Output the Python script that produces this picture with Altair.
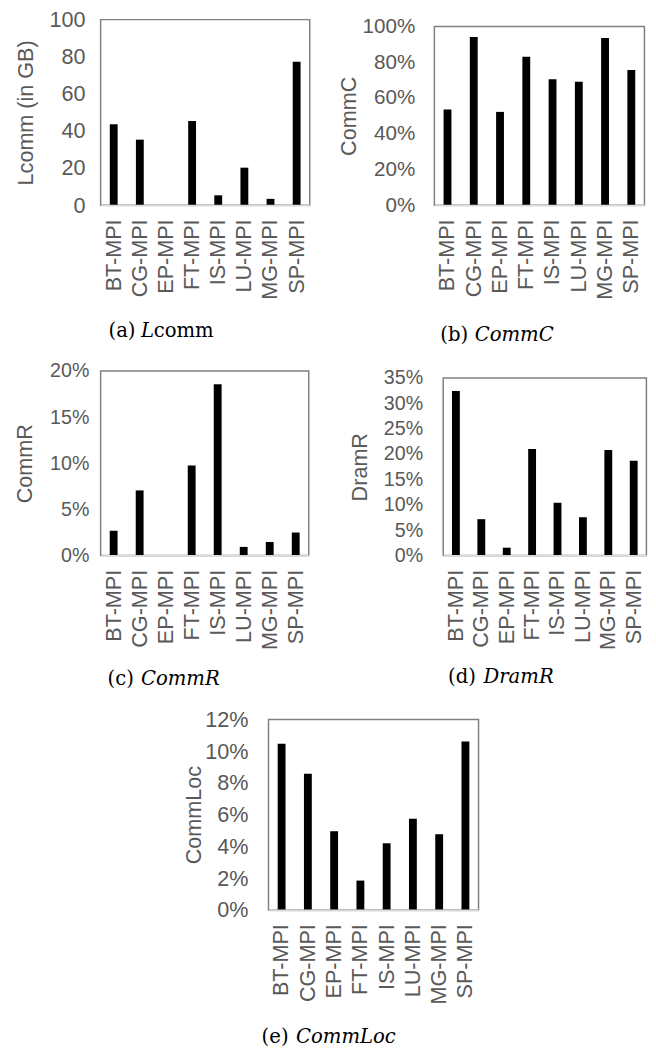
import altair as alt
import pandas as pd

categories = ["BT-MPI", "CG-MPI", "EP-MPI", "FT-MPI", "IS-MPI", "LU-MPI", "MG-MPI", "SP-MPI"]

lcomm = [43.6, 35.3, 0.0, 45.4, 5.3, 20.2, 3.4, 77.3]
commc = [0.535, 0.941, 0.522, 0.831, 0.705, 0.691, 0.936, 0.756]
commr = [0.0269, 0.0706, 0.0, 0.0975, 0.1857, 0.0094, 0.0147, 0.025]
dramr = [0.324, 0.0717, 0.0155, 0.2098, 0.104, 0.0755, 0.208, 0.1866]
commloc = [0.1047, 0.0858, 0.0496, 0.0185, 0.042, 0.0574, 0.0477, 0.1061]

ticks_lcomm = [0, 20, 40, 60, 80, 100]
ticks_commc = [0, 0.2, 0.4, 0.6, 0.8, 1.0]
ticks_commr = [0, 0.05, 0.10, 0.15, 0.20]
ticks_dramr = [0, 0.05, 0.10, 0.15, 0.20, 0.25, 0.30, 0.35]
ticks_commloc = [0, 0.02, 0.04, 0.06, 0.08, 0.10, 0.12]

GRAY = "#595959"
SANS = "Liberation Sans"
SERIF = "DejaVu Serif"


def panel(values, ytitle, ticks, fmt, w, h, top, title_x, label_pad, yfont, caption, cap_dy):
    df = pd.DataFrame({"cat": categories, "val": values})
    frame = alt.Chart(pd.DataFrame({"f": [0]})).mark_rect(
        fillOpacity=0, stroke="#808080", strokeWidth=1.5
    ).encode(x=alt.value(0), x2=alt.value(w), y=alt.value(top), y2=alt.value(h))
    bars = alt.Chart(df).mark_bar(color="black", size=8).encode(
        x=alt.X("cat:N", sort=categories, title=None,
                scale=alt.Scale(paddingInner=0, paddingOuter=0),
                axis=alt.Axis(labelAngle=270, labelAlign="right", labelBaseline="middle",
                              labelFontSize=22, labelColor=GRAY, labelFont=SANS,
                              labelPadding=14, ticks=False, tickSize=0,
                              domainColor="#d9d9d9", domainWidth=2, zindex=1)),
        y=alt.Y("val:Q", title=ytitle,
                scale=alt.Scale(domain=[ticks[0], ticks[-1]], nice=False, zero=True,
                                range=[h, top]),
                axis=alt.Axis(values=ticks, format=fmt, grid=False, ticks=False, tickSize=0,
                              domain=False, labelFontSize=yfont, labelColor=GRAY, labelFont=SANS,
                              labelPadding=label_pad, titleFontSize=22, titleColor=GRAY,
                              titleFont=SANS, titleFontWeight="normal", titleX=title_x,
                              titleY=(h + top) / 2, titleBaseline="middle", labelFlush=False)),
    )
    layers = [frame, bars]
    for text, style, dx in caption:
        t = alt.Chart(pd.DataFrame({"t": [text]})).mark_text(
            font=SERIF, fontSize=20, fontStyle=style, align="left", baseline="middle",
            color="black").encode(text="t:N", x=alt.value(dx), y=alt.value(h + cap_dy))
        layers.append(t)
    return alt.layer(*layers).properties(width=w, height=h)


pa = panel(lcomm, "Lcomm (in GB)", ticks_lcomm, "d", 213, 189, 0, -76, 16, 22,
           [("(a)", "normal", 8), ("L", "italic", 41), ("comm", "normal", 54)], 128)
pb = panel(commc, "CommC", ticks_commc, ".0%", 214, 189, 7, -87, 20, 21,
           [("(b)", "normal", 6), ("CommC", "italic", 41)], 132)
pc = panel(commr, "CommR", ticks_commr, ".0%", 212, 188, 0, -77, 12, 20,
           [("(c)", "normal", 7), ("CommR", "italic", 41)], 126)
pd_ = panel(dramr, "DramR", ticks_dramr, ".0%", 207, 188, 7, -85, 21, 20,
            [("(d)", "normal", 5), ("DramR", "italic", 41)], 124)
pe = panel(commloc, "CommLoc", ticks_commloc, ".0%", 214, 194, 0, -76, 21, 22,
           [("(e)", "normal", -7), ("CommLoc", "italic", 28)], 130)

row1 = alt.hconcat(pa, pb, spacing=26)
row2 = alt.hconcat(pc, pd_, spacing=38)
top_rows = alt.vconcat(row1, row2, spacing=15)
chart = alt.vconcat(top_rows, pe, spacing=18, center=True).properties(
    padding={"left": 5, "top": -10, "right": 0, "bottom": 0}
).configure(font=SANS).configure_view(stroke="transparent")

chart.save("out.html", embed_options={"renderer": "svg", "actions": False})
